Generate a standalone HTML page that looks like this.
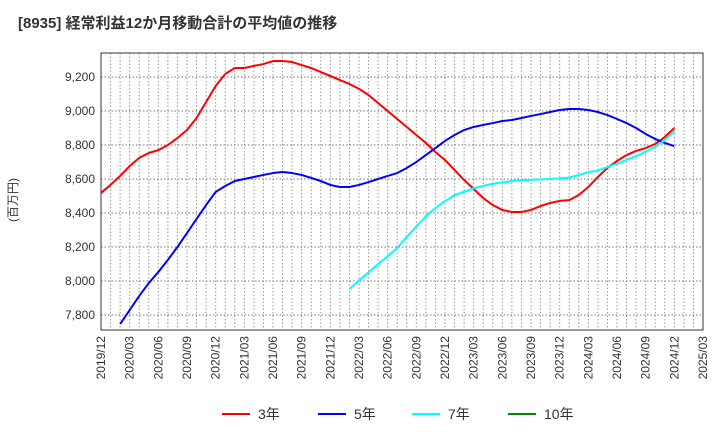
<!DOCTYPE html>
<html><head><meta charset="utf-8"><style>
body{margin:0;background:#fff;width:720px;height:440px;overflow:hidden;font-family:"Liberation Sans","Noto Sans CJK JP",sans-serif;}
</style></head><body>
<svg width="720" height="440" xmlns="http://www.w3.org/2000/svg">
<text x="18" y="28" font-size="15" font-weight="bold" fill="#333">[8935]  経常利益12か月移動合計の平均値の推移</text>
<text transform="translate(17,200) rotate(-90)" font-size="12" fill="#333" text-anchor="middle">(百万円)</text>
<g id="grid"></g><g id="axes"></g><g id="series"></g>
<rect x="101" y="53" width="602" height="277" fill="none" stroke="#333" stroke-width="1"/>
<g id="legend"></g>
</svg>
<script>
const xLabels=["2019/12","2020/03","2020/06","2020/09","2020/12","2021/03","2021/06","2021/09","2021/12","2022/03","2022/06","2022/09","2022/12","2023/03","2023/06","2023/09","2023/12","2024/03","2024/06","2024/09","2024/12","2025/03"];
const yTicks=[7800,8000,8200,8400,8600,8800,9000,9200];
const s3Start=0;
const s3=[8518,8565,8618,8676,8724,8753,8770,8800,8841,8888,8959,9053,9147,9218,9253,9253,9265,9276,9294,9294,9288,9270,9253,9229,9206,9182,9159,9130,9094,9047,9000,8953,8906,8859,8812,8759,8712,8653,8594,8541,8488,8447,8418,8406,8406,8418,8441,8459,8471,8476,8506,8553,8612,8665,8706,8741,8765,8782,8806,8847,8900];
const s5Start=2;
const s5=[7747,7829,7912,7988,8053,8124,8200,8282,8365,8447,8524,8559,8588,8600,8612,8624,8635,8641,8635,8624,8606,8588,8565,8553,8553,8565,8582,8600,8618,8635,8665,8700,8741,8782,8824,8859,8888,8906,8918,8929,8941,8947,8959,8971,8982,8994,9006,9012,9012,9006,8994,8976,8953,8929,8900,8865,8835,8812,8794];
const s7Start=26;
const s7=[7953,8003,8051,8099,8146,8194,8260,8320,8380,8430,8470,8505,8525,8545,8560,8572,8580,8588,8593,8595,8598,8600,8604,8608,8624,8640,8650,8670,8690,8712,8735,8760,8790,8830,8880];
const s10Start=60;
const s10=[];
const NS="http://www.w3.org/2000/svg";
const X0=101,X1=703,Y0=53,Y1=330,NM=63;
const xm=m=>X0+(X1-X0)*m/NM;
const yv=v=>77+(9200-v)*0.17;
function mk(t,a,p){const e=document.createElementNS(NS,t);for(const k in a)e.setAttribute(k,a[k]);p.appendChild(e);return e;}
const grid=document.getElementById('grid'),axes=document.getElementById('axes'),ser=document.getElementById('series'),leg=document.getElementById('legend');
for(let m=1;m<NM;m++){const l=mk('line',{x1:xm(m),x2:xm(m),y1:Y0,y2:Y1,stroke:'#999','stroke-dasharray':'1.5,2','stroke-width':1},grid);

}
yTicks.forEach(v=>{const l=mk('line',{x1:X0,x2:X1,y1:yv(v),y2:yv(v),stroke:'#777','stroke-dasharray':'1.5,2','stroke-width':1},grid);


const t=mk('text',{x:X0-6,y:yv(v)+4,'font-size':12,fill:'#333','text-anchor':'end'},axes);


t.textContent=v.toLocaleString('en-US');});
xLabels.forEach((s,i)=>{const x=xm(i*3);const t=mk('text',{transform:`translate(${x+4},${Y1+6}) rotate(-90)`,'font-size':12,fill:'#333','text-anchor':'end'},axes);


t.textContent=s;});
function line(arr,start,color,name){if(!arr.length)return;const p=mk('polyline',{points:arr.map((v,i)=>xm(start+i)+','+yv(v)).join(' '),fill:'none',stroke:color,'stroke-width':2,'stroke-linejoin':'round'},ser);

}
line(s3,s3Start,'#f00','series-3yr');
line(s5,s5Start,'#00f','series-5yr');
line(s7,s7Start,'#0ff','series-7yr');
line(s10,s10Start,'#080','series-10yr');
[['3年','#f00',222],['5年','#00f',318],['7年','#0ff',412],['10年','#080',508]].forEach(([n,c,x])=>{
const g=mk('g',{},leg);


mk('line',{x1:x,x2:x+28,y1:414,y2:414,stroke:c,'stroke-width':2},g);
const t=mk('text',{x:x+36,y:419,'font-size':14,fill:'#333'},g);t.textContent=n;});
</script>
</body></html>
